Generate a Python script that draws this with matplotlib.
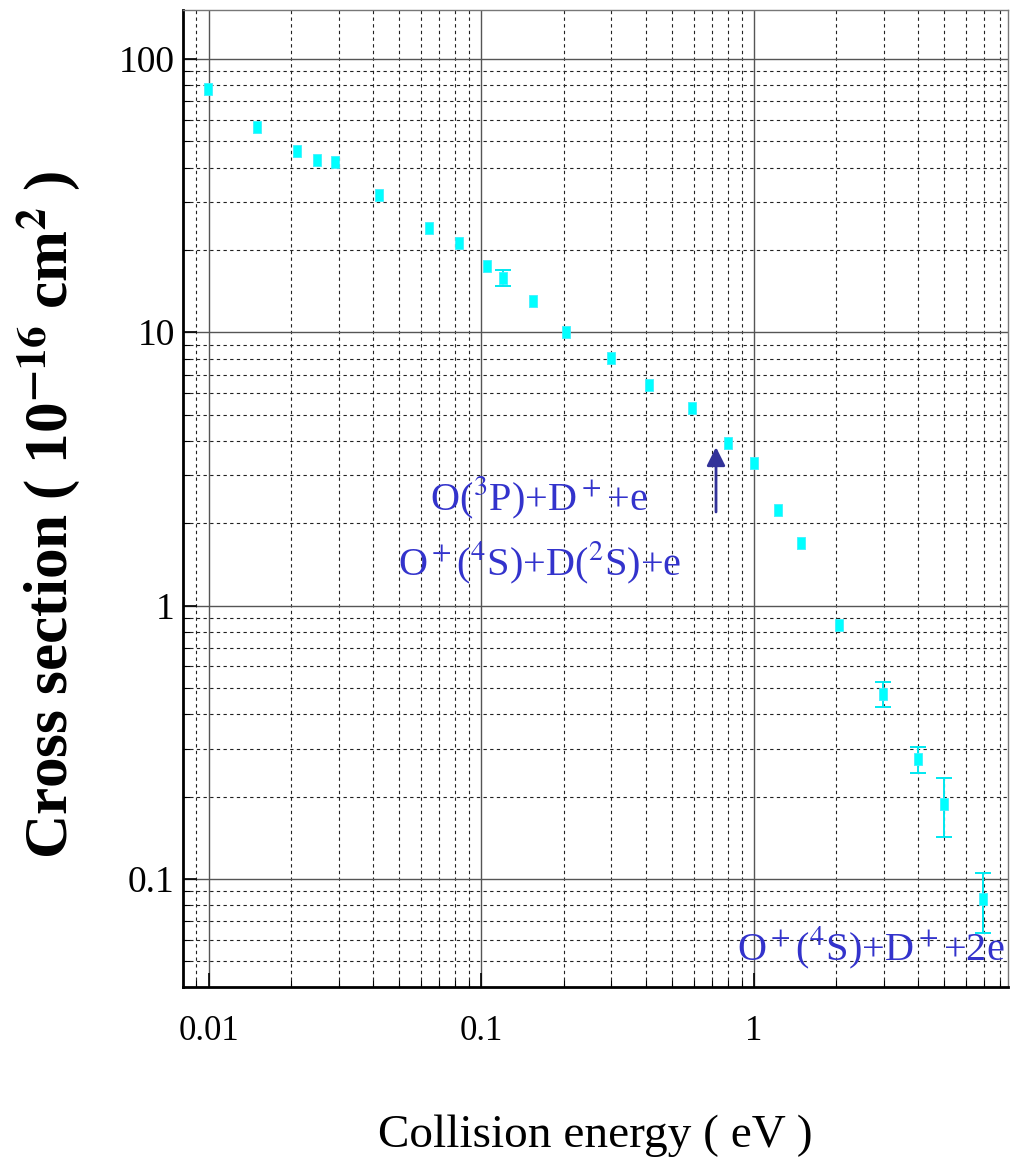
import numpy as np
import matplotlib
matplotlib.use('Agg')
import matplotlib.pyplot as plt
from matplotlib.ticker import LogLocator, NullFormatter, FixedLocator, FixedFormatter

plt.rcParams['font.family'] = ['Liberation Serif', 'DejaVu Serif']
plt.rcParams['mathtext.fontset'] = 'stix'

# ---- data -------------------------------------------------------------------
energy = [0.0099, 0.015, 0.021, 0.0249, 0.029, 0.042, 0.064, 0.0826, 0.105, 0.12,
          0.155, 0.204, 0.30, 0.412, 0.592, 0.80, 1.0, 1.22, 1.49, 2.05,
          2.97, 4.0, 4.98, 6.92]
sigma = [77.6, 56.4, 46.0, 42.7, 42.0, 31.8, 24.1, 21.2, 17.5, 15.8,
         13.0, 10.0, 8.05, 6.41, 5.28, 3.94, 3.33, 2.24, 1.69, 0.849,
         0.475, 0.275, 0.188, 0.0843]
err = [0, 0, 0, 0, 0, 0, 0, 0, 0, 1.1,
       0, 0, 0, 0, 0, 0, 0, 0, 0, 0,
       0.05, 0.03, 0.046, 0.021]

xticks = [0.01, 0.1, 1]
xticklabels = ['0.01', '0.1', '1']
yticks = [0.1, 1, 10, 100]
yticklabels = ['0.1', '1', '10', '100']

blue = '#3333cc'

fig = plt.figure(figsize=(10.11, 11.72), dpi=100)
ax = fig.add_axes([0.181, 0.158, 0.816, 0.8335])
ax.set_xscale('log'); ax.set_yscale('log')
ax.set_xlim(0.00803, 8.55); ax.set_ylim(0.0403, 151)

E = np.array(energy); S = np.array(sigma); dS = np.array(err)
has = dS > 0
rect = [(-0.33, -0.5), (0.33, -0.5), (0.33, 0.5), (-0.33, 0.5), (-0.33, -0.5)]
ax.errorbar(E[has], S[has], yerr=dS[has], fmt='none', ecolor='#00e8f0', elinewidth=1.4,
            capsize=5.5, capthick=1.4, zorder=4)
ax.plot(E, S, ls='none', marker=rect, ms=9, color='#00ffff',
        mec='#40f0ff', mew=0.6, zorder=5)

# grid: solid majors, dashed minors
ax.grid(which='major', color='#555555', lw=1.0, ls='-', zorder=1)
ax.grid(which='minor', color='#222222', lw=0.8, ls=(0, (3, 3)), zorder=1)
ax.set_axisbelow(True)

ax.xaxis.set_major_locator(FixedLocator(xticks))
ax.xaxis.set_major_formatter(FixedFormatter(xticklabels))
ax.xaxis.set_minor_locator(LogLocator(base=10, subs=np.arange(2, 10)))
ax.xaxis.set_minor_formatter(NullFormatter())
ax.yaxis.set_major_locator(FixedLocator(yticks))
ax.yaxis.set_major_formatter(FixedFormatter(yticklabels))
ax.yaxis.set_minor_locator(LogLocator(base=10, subs=np.arange(2, 10)))
ax.yaxis.set_minor_formatter(NullFormatter())

ax.tick_params(which='both', direction='in', top=False, right=False, color='k')
ax.tick_params(which='major', length=10, width=1.2)
ax.tick_params(which='minor', length=5, width=0.8)
ax.tick_params(axis='x', labelsize=25, pad=20)
ax.tick_params(axis='y', labelsize=27, pad=6)

for s in ('left', 'bottom'):
    ax.spines[s].set_linewidth(2.0); ax.spines[s].set_color('k')
for s in ('top', 'right'):
    ax.spines[s].set_linewidth(1.0); ax.spines[s].set_color('#777777')

ax.set_xlabel('Collision energy ( eV )', fontsize=34, labelpad=48)
ax.set_ylabel(r'Cross section ( 10$^{\mathbf{-16}}$ cm$^{\mathbf{2}}$ )',
              fontsize=44, fontweight='bold')
ax.yaxis.set_label_coords(-0.122, 0.483)

# reaction labels and threshold arrow
ax.text(0.163, 2.48, r'O($^3$P)+D$^+$+e', color=blue, fontsize=29, ha='center', va='center')
ax.text(0.164, 1.43, r'O$^+$($^4$S)+D($^2$S)+e', color=blue, fontsize=29, ha='center', va='center')
ax.text(8.3, 0.0558, r'O$^+$($^4$S)+D$^+$+2e', color=blue, fontsize=29, ha='right', va='center')
ax.annotate('', xy=(0.7255, 3.80), xytext=(0.7255, 2.20),
            arrowprops=dict(arrowstyle='-|>', color='#333399', lw=2,
                            mutation_scale=28, shrinkA=0, shrinkB=0))

fig.savefig('out.png', dpi=100)
